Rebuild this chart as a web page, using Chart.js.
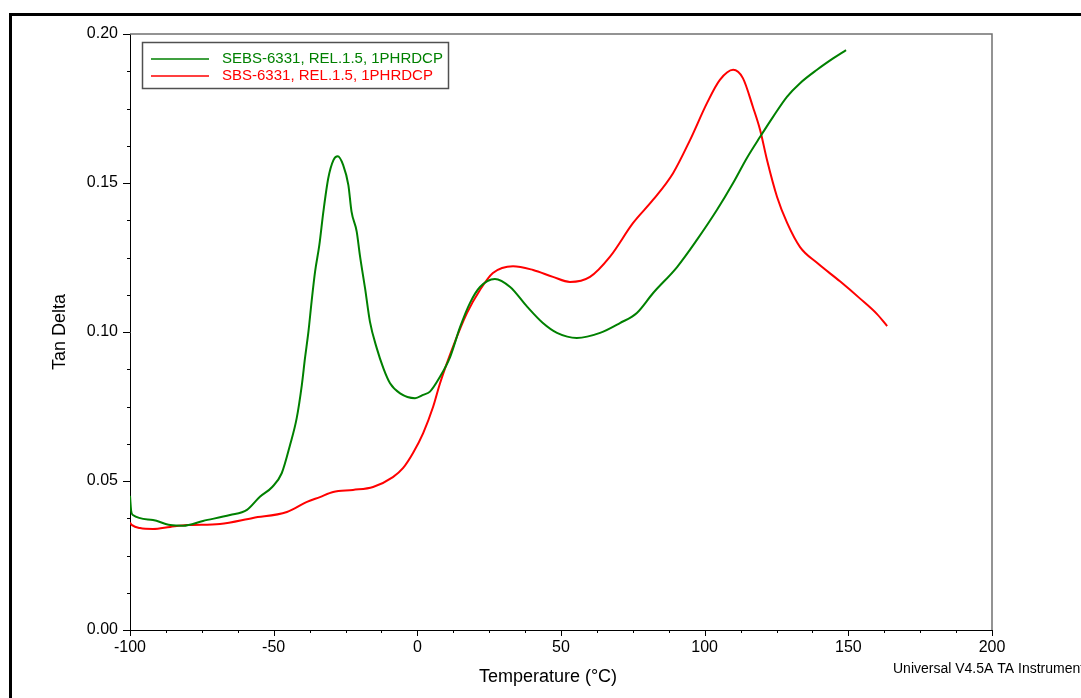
<!DOCTYPE html>
<html>
<head>
<meta charset="utf-8">
<script src="https://cdn.jsdelivr.net/npm/chart.js@4/dist/chart.umd.min.js"></script>
<style>
  html, body { margin: 0; padding: 0; background: #fff; overflow: hidden; }
  #frame {
    position: absolute; left: 9px; top: 13px; width: 2000px; height: 2000px;
    border-left: 3px solid #000; border-top: 3px solid #000;
  }
  #wrap { position: absolute; left: 0; top: 0; width: 1081px; height: 698px; }
</style>
</head>
<body>
<div id="frame"></div>
<div id="wrap"><canvas id="dma"></canvas></div>
<script>
// SEBS sample, tan delta vs temperature
const sebsTemp = [-100, -99.6, -99, -92, -86, -81.5, -74.6, -65.2, -59.3, -54.8, -50.5, -47.2, -44.3, -42,
    -40.2, -39.1, -37.9, -36.8, -35.6, -34.1, -32.7, -31, -29.2, -27.7, -25.8, -24, -22.9, -21.1, -20,
    -18.2, -16.5, -14.1, -11.8, -9.5, -6, -0.8, 2, 4.4, 7.9, 11.4, 14.9, 18.3, 21.8, 27, 32.3, 38.2, 43.7,
    48.6, 55.5, 63.6, 70.5, 76.4, 82, 90.4, 97.3, 104.3, 109.9, 114.7, 119.3, 123.8, 128.7, 133.2, 139.1,
    144.7, 149.2];
const sebsTan = [0.045, 0.040, 0.0386, 0.0369, 0.0352, 0.035, 0.0366, 0.0386, 0.0403, 0.0447, 0.0480, 0.0526,
    0.0621, 0.071, 0.0822, 0.0912, 0.1001, 0.1102, 0.1202, 0.1292, 0.1404, 0.1516, 0.1577, 0.159, 0.156,
    0.1493, 0.1404, 0.1337, 0.1258, 0.1147, 0.1035, 0.0945, 0.0878, 0.0828, 0.0794, 0.0778, 0.0789, 0.080,
    0.085, 0.0916, 0.1017, 0.1097, 0.1151, 0.1178, 0.1151, 0.1085, 0.103, 0.0997, 0.098, 0.0997, 0.103,
    0.1064, 0.113, 0.1218, 0.1309, 0.141, 0.150, 0.1584, 0.1655, 0.1722, 0.179, 0.1835, 0.188, 0.1918, 0.1946];

// SBS sample
const sbsTemp = [-100, -99.3, -96.5, -92, -86, -80.2, -68.7, -57.2, -45.4, -38.4, -33.9, -29.3, -22.4, -15.4,
    -8.5, -5, -1.5, 2, 5.5, 7.9, 12.4, 17.3, 21.8, 26.3, 33.3, 40.3, 47.2, 53.1, 60.1, 67, 75.1, 82, 89,
    94.9, 100.8, 105.3, 109.9, 113.3, 116.8, 119.3, 121.7, 125.2, 128.7, 133.2, 139.1, 147.1, 154.1, 160, 163.5];
const sbsTan = [0.036, 0.0352, 0.0342, 0.0339, 0.0346, 0.0352, 0.0356, 0.0376, 0.0396, 0.043, 0.0446, 0.0463,
    0.047, 0.048, 0.0513, 0.0543, 0.0594, 0.066, 0.0749, 0.0828, 0.095, 0.1064, 0.1141, 0.1198, 0.1221,
    0.1208, 0.1185, 0.1168, 0.1185, 0.1252, 0.1366, 0.1443, 0.1533, 0.1644, 0.1768, 0.1846, 0.188, 0.1852,
    0.1755, 0.1678, 0.1577, 0.1453, 0.1366, 0.1285, 0.1232, 0.1170, 0.1112, 0.1060, 0.102];

const seriesLabels = ["SEBS-6331, REL.1.5, 1PHRDCP", "SBS-6331, REL.1.5, 1PHRDCP"];
const xTicks = [-100, -50, 0, 50, 100, 150, 200];
const yTicks = [0, 0.05, 0.10, 0.15, 0.20];

const FONT = "'Liberation Sans', Arial, sans-serif";
const GREEN = "rgb(0,128,0)";
const RED = "rgb(255,0,0)";

function toPoints(xs, ys) {
    return xs.map((x, i) => ({ x: x, y: ys[i] }));
}

// major + minor tick marks, plot frame, legend box and captions
const decorations = {
    id: "decorations",
    afterDraw(chart) {
        const ctx = chart.ctx;
        const area = chart.chartArea;
        const xs = chart.scales.x, ys = chart.scales.y;
        ctx.save();

        // top and right edges of the plot box
        ctx.strokeStyle = "#707070";
        ctx.lineWidth = 1.5;
        ctx.beginPath();
        ctx.moveTo(area.left, area.top);
        ctx.lineTo(area.right, area.top);
        ctx.lineTo(area.right, area.bottom);
        ctx.stroke();

        ctx.strokeStyle = "#000";
        ctx.lineWidth = 1;
        ctx.beginPath();
        for (let v = -100; v <= 200; v += 12.5) {
            const px = Math.round(xs.getPixelForValue(v)) + 0.5;
            const len = v % 50 === 0 ? 6 : 3;
            ctx.moveTo(px, area.bottom);
            ctx.lineTo(px, area.bottom + len);
        }
        for (let i = 0; i <= 16; i++) {
            const v = i * 0.0125;
            const py = Math.round(ys.getPixelForValue(v)) + 0.5;
            const len = i % 4 === 0 ? 7 : 3;
            ctx.moveTo(area.left, py);
            ctx.lineTo(area.left - len, py);
        }
        ctx.stroke();

        // legend
        const lx = area.left + 12, ly = area.top + 8;
        ctx.strokeStyle = "#505050";
        ctx.lineWidth = 1.5;
        ctx.strokeRect(lx + 0.5, ly + 0.5, 306, 46);
        ctx.font = "15px " + FONT;
        ctx.textBaseline = "middle";
        chart.data.datasets.forEach((ds, i) => {
            const y = ly + 17 + i * 17;
            ctx.strokeStyle = ds.borderColor;
            ctx.lineWidth = 1.3;
            ctx.beginPath();
            ctx.moveTo(lx + 9, y);
            ctx.lineTo(lx + 67, y);
            ctx.stroke();
            ctx.fillStyle = ds.borderColor;
            ctx.fillText(ds.label, lx + 80, y);
        });

        // axis captions
        ctx.fillStyle = "#000";
        ctx.textAlign = "center";
        ctx.font = "18px " + FONT;
        ctx.fillText("Temperature (°C)", 548, 677);
        ctx.save();
        ctx.translate(60, 332);
        ctx.rotate(-Math.PI / 2);
        ctx.fillText("Tan Delta", 0, 0);
        ctx.restore();
        ctx.font = "14px " + FONT;
        ctx.textAlign = "left";
        ctx.fillText("Universal V4.5A TA Instrument", 893, 669);
        ctx.restore();
    }
};

new Chart(document.getElementById("dma"), {
    type: "line",
    data: {
        datasets: [
            {
                label: seriesLabels[0],
                data: toPoints(sebsTemp, sebsTan),
                borderColor: GREEN,
                borderWidth: 2,
                pointRadius: 0,
                cubicInterpolationMode: "monotone",
                fill: false
            },
            {
                label: seriesLabels[1],
                data: toPoints(sbsTemp, sbsTan),
                borderColor: RED,
                borderWidth: 2,
                pointRadius: 0,
                cubicInterpolationMode: "monotone",
                fill: false
            }
        ]
    },
    options: {
        responsive: true,
        maintainAspectRatio: false,
        animation: false,
        events: [],
        layout: { padding: { left: 0, top: 34, right: 89, bottom: 0 } },
        plugins: {
            legend: { display: false },
            tooltip: { enabled: false }
        },
        scales: {
            x: {
                type: "linear",
                min: -100,
                max: 200,
                afterFit(scale) { scale.height = 68; },
                afterBuildTicks(scale) { scale.ticks = xTicks.map(v => ({ value: v })); },
                grid: { drawOnChartArea: false, drawTicks: false },
                border: { color: "#000", width: 1 },
                ticks: {
                    padding: 8,
                    color: "#000",
                    font: { family: FONT, size: 16 },
                    callback: v => String(v)
                }
            },
            y: {
                type: "linear",
                min: 0,
                max: 0.2,
                afterFit(scale) { scale.width = 130; },
                afterBuildTicks(scale) { scale.ticks = yTicks.map(v => ({ value: v })); },
                grid: { drawOnChartArea: false, drawTicks: false },
                border: { color: "#000", width: 1 },
                ticks: {
                    padding: 12,
                    color: "#000",
                    font: { family: FONT, size: 16 },
                    callback: v => v.toFixed(2)
                }
            }
        }
    },
    plugins: [decorations]
});
</script>
</body>
</html>
